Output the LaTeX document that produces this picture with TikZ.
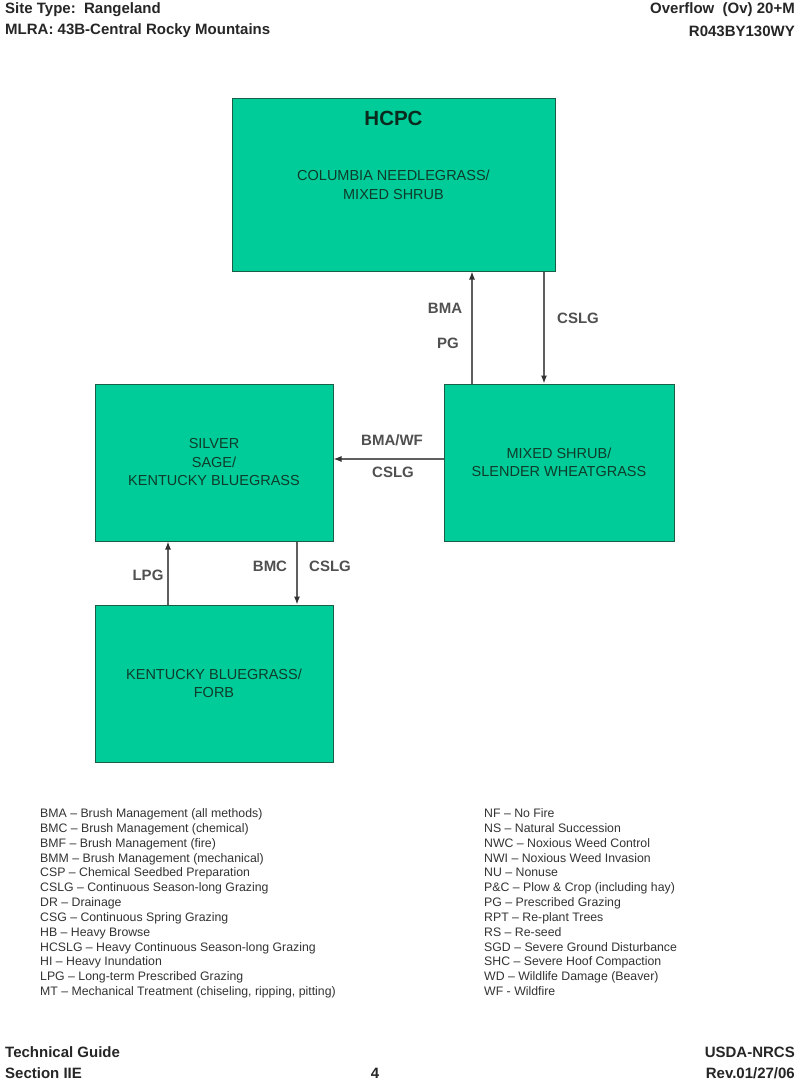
\documentclass[tikz,border=0pt]{standalone}
\usepackage{fontspec}
\setmainfont{Liberation Sans}
\usetikzlibrary{arrows.meta}
\definecolor{boxfill}{RGB}{0,204,153}
\definecolor{boxline}{RGB}{25,95,70}
\definecolor{boxtext}{RGB}{15,60,42}
\definecolor{arrgray}{RGB}{95,95,95}
\definecolor{labgray}{RGB}{80,80,80}
\begin{document}
\begin{tikzpicture}[x=1pt,y=-1pt,
 state/.style={draw=boxline,line width=1pt,fill=boxfill,inner sep=0pt,align=center,text=boxtext,font=\fontsize{14.5}{18.5}\selectfont},
 arr/.style={draw=arrgray,line width=1.2pt,-{Latex[length=8pt,width=6pt,color=black!80]}},
 lab/.style={text=labgray,font=\fontsize{15}{18}\selectfont\bfseries,inner sep=0pt},
 hdr/.style={font=\fontsize{15}{18}\selectfont\bfseries,inner sep=0pt,text=black!85},
 leg/.style={font=\fontsize{12.3}{14.83}\selectfont,inner sep=0pt,align=left,text=black!80,anchor=north west}]
\useasboundingbox[fill=white] (0,0) rectangle (800,1086);

% header
\node[hdr,anchor=west] (h1) at (5,10) {Site Type:\ \ Rangeland};
\node[hdr,anchor=west] (h2) at (5,31) {MLRA: 43B-Central Rocky Mountains};
\node[hdr,anchor=east] (h3) at (795,10) {Overflow\ \ (Ov) 20+M};
\node[hdr,anchor=east] (h4) at (795,31) {R043BY130WY};

% states
\node[state,minimum width=323pt,minimum height=172pt] (hcpc) at (393.5,185) {COLUMBIA NEEDLEGRASS/\\MIXED SHRUB};
\node[font=\fontsize{20.5}{24}\selectfont\bfseries,text=boxtext!70!black,inner sep=0pt] (title) at (393.5,118) {HCPC};
\node[state,minimum width=230pt,minimum height=157pt] (mixed) at (559,462.5) {MIXED SHRUB/\\SLENDER WHEATGRASS};
\node[state,minimum width=238pt,minimum height=157pt] (silver) at (214,462.5) {SILVER\\SAGE/\\KENTUCKY BLUEGRASS};
\node[state,minimum width=238pt,minimum height=157pt] (kbf) at (214,683.5) {KENTUCKY BLUEGRASS/\\FORB};

% connectors
\coordinate (xa) at (472,0);
\coordinate (xb) at (544,0);
\coordinate (yh) at (0,459);
\coordinate (xc) at (168,0);
\coordinate (xd) at (297,0);
\draw[arr] (xa |- mixed.north) -- (xa |- hcpc.south);
\draw[arr] (xb |- hcpc.south) -- (xb |- mixed.north);
\draw[arr] (yh -| mixed.west) -- (yh -| silver.east);
\draw[arr] (xc |- kbf.north) -- (xc |- silver.south);
\draw[arr] (xd |- silver.south) -- (xd |- kbf.north);

% labels
\node[lab] (l1) at (445,308) {BMA};
\node[lab] (l2) at (448,343) {PG};
\node[lab] (l3) at (578,318) {CSLG};
\node[lab] (l4) at (392,440) {BMA/WF};
\node[lab] (l5) at (393,472) {CSLG};
\node[lab] (l6) at (148,575) {LPG};
\node[lab] (l7) at (270,566) {BMC};
\node[lab] (l8) at (330,566) {CSLG};

% legend
\node[leg] (legL) at (40,808.5) {BMA – Brush Management (all methods)\\
BMC – Brush Management (chemical)\\
BMF – Brush Management (fire)\\
BMM – Brush Management (mechanical)\\
CSP – Chemical Seedbed Preparation\\
CSLG – Continuous Season-long Grazing\\
DR – Drainage\\
CSG – Continuous Spring Grazing\\
HB – Heavy Browse\\
HCSLG – Heavy Continuous Season-long Grazing\\
HI – Heavy Inundation\\
LPG – Long-term Prescribed Grazing\\
MT – Mechanical Treatment (chiseling, ripping, pitting)};
\node[leg] (legR) at (484,808.5) {NF – No Fire\\
NS – Natural Succession\\
NWC – Noxious Weed Control\\
NWI – Noxious Weed Invasion\\
NU – Nonuse\\
P\&C – Plow \& Crop (including hay)\\
PG – Prescribed Grazing\\
RPT – Re-plant Trees\\
RS – Re-seed\\
SGD – Severe Ground Disturbance\\
SHC – Severe Hoof Compaction\\
WD – Wildlife Damage (Beaver)\\
WF - Wildfire};

% footer
\node[hdr,anchor=west] (f1) at (5,1052) {Technical Guide};
\node[hdr,anchor=west] (f2) at (5,1073) {Section IIE};
\node[hdr] (f3) at (375,1073) {4};
\node[hdr,anchor=east] (f4) at (795,1052) {USDA-NRCS};
\node[hdr,anchor=east] (f5) at (795,1073) {Rev.01/27/06};
\end{tikzpicture}
\end{document}
